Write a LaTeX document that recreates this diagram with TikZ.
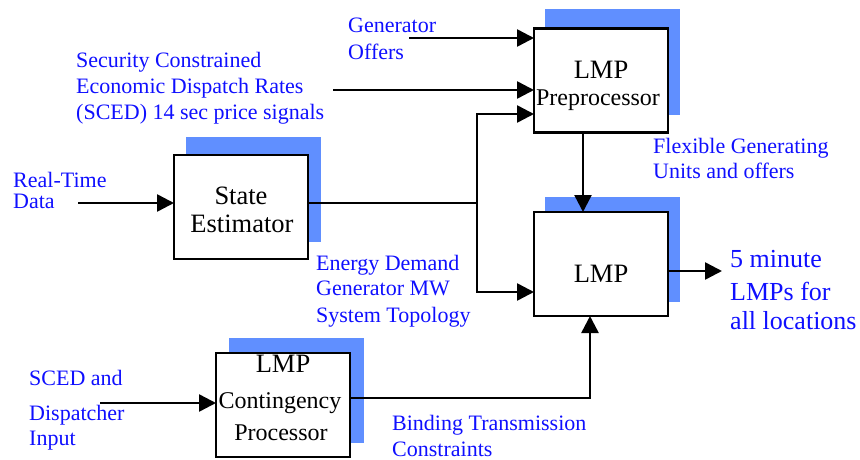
\documentclass[tikz,border=0pt]{standalone}
\usepackage{fontspec}
\setmainfont{Liberation Serif}
\usetikzlibrary{arrows.meta}
\definecolor{shadowblue}{RGB}{96,143,255}
\definecolor{labelblue}{RGB}{15,15,255}
\begin{document}
\begin{tikzpicture}[x=1pt,y=-1pt,
  box/.style={draw=black, line width=2.8pt, fill=white, minimum width=134pt, minimum height=104pt, inner sep=0pt, outer sep=0pt},
  shade/.style={fill=shadowblue, inner sep=0pt, outer sep=0pt, minimum width=135pt, minimum height=105pt},
  conn/.style={line width=2.5pt},
  arr/.style={conn, -{Triangle[length=17pt,width=17pt]}},
  lbl/.style={text=labelblue, font=\fontsize{22}{26}\selectfont, anchor=base west, inner sep=0pt},
  olbl/.style={text=labelblue, font=\fontsize{26}{30}\selectfont, anchor=base west, inner sep=0pt},
  btxt/.style={font=\fontsize{26.5}{30}\selectfont, anchor=base, inner sep=0pt},
  btxs/.style={font=\fontsize{24}{28}\selectfont, anchor=base, inner sep=0pt}]
\useasboundingbox (0,0) rectangle (860,460);

% shadows
\node[shade] (preS) at (612,62) {};
\node[shade] (seS) at (253,189) {};
\node[shade] (lmpS) at (612,249.5) {};
\node[shade] (cpS) at (296,390.5) {};

% boxes
\node[box] (pre) at (601,80.5) {};
\node[box] (se) at (241,207) {};
\node[box] (lmp) at (601,264) {};
\node[box] (cp) at (283,405) {};

% box texts
\node[btxt] (preT1) at (601,78) {LMP};
\node[btxs] (preT2) at (598,106) {Preprocessor};
\node[btxt] (seT1) at (241,204) {State};
\node[btxt] (seT2) at (242,232) {Estimator};
\node[btxt] (lmpT) at (601,282) {LMP};
\node[btxt] (cpT1) at (283,372) {LMP};
\node[btxs] (cpT2) at (280,408) {Contingency};
\node[btxs] (cpT3) at (281,440) {Processor};

% labels
\node[lbl] (go1) at (348,33) {Generator};
\node[lbl] (go2) at (348,60) {Offers};
\node[lbl] (sc1) at (76,67) {Security Constrained};
\node[lbl] (sc2) at (76,93) {Economic Dispatch Rates};
\node[lbl] (sc3) at (76,119) {(SCED) 14 sec price signals};
\node[lbl] (rt1) at (13,187) {Real-Time};
\node[lbl] (rt2) at (13,208) {Data};
\node[lbl] (fg1) at (653,153) {Flexible Generating};
\node[lbl] (fg2) at (653,178) {Units and offers};
\node[lbl] (ed1) at (316,270) {Energy Demand};
\node[lbl] (ed2) at (316,295) {Generator MW};
\node[lbl] (ed3) at (316,322) {System Topology};
\node[lbl] (sd1) at (29,385) {SCED and};
\node[lbl] (sd2) at (29,420) {Dispatcher};
\node[lbl] (sd3) at (29,445) {Input};
\node[lbl] (bt1) at (392,430) {Binding Transmission};
\node[lbl] (bt2) at (392,456) {Constraints};
\node[olbl] (ol1) at (730,267) {5 minute};
\node[olbl] (ol2) at (730,300) {LMPs for};
\node[olbl] (ol3) at (730,329) {all locations};

% connector coordinates
\coordinate (goS) at (409,38);
\coordinate (scS) at (333,90);
\coordinate (rtS) at (78,203);
\coordinate (j1) at (477,203);
\coordinate (jt) at (477,114);
\coordinate (jb) at (477,292);
\coordinate (px) at (583,0);
\coordinate (oy) at (0,271);
\coordinate (outE) at (722,271);
\coordinate (cy) at (0,398);
\coordinate (cx) at (590,0);
\coordinate (daS) at (100,403);

% connectors
\draw[arr] (goS) -- (goS -| pre.west);
\draw[arr] (scS) -- (scS -| pre.west);
\draw[arr] (rtS) -- (rtS -| se.west);
\draw[conn] (j1 -| se.east) -- (j1);
\draw[arr] (j1) |- (jt -| pre.west);
\draw[arr] (j1) |- (jb -| lmp.west);
\draw[arr] (px |- pre.south) -- (px |- lmp.north);
\draw[arr] (oy -| lmp.east) -- (outE);
\draw[arr] (cy -| cp.east) -| (cx |- lmp.south);
\draw[arr] (daS) -- (daS -| cp.west);
\end{tikzpicture}
\end{document}
